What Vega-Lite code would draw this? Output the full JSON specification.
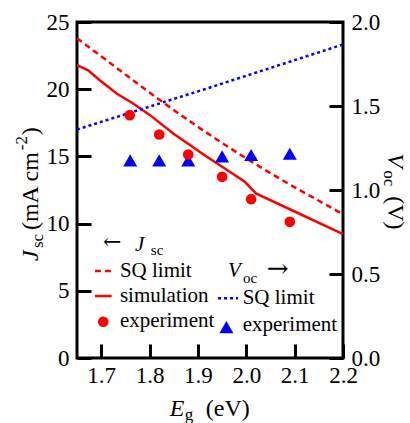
{
  "$schema": "https://vega.github.io/schema/vega-lite/v6.json",
  "width": 266,
  "height": 336,
  "autosize": {"type": "none"},
  "padding": {"left": 77, "top": 22, "right": 67, "bottom": 65},
  "background": "white",
  "config": {
    "view": {"stroke": "black", "strokeWidth": 3},
    "font": "Liberation Serif",
    "axis": {"domain": false, "grid": false, "ticks": true, "tickColor": "black", "tickWidth": 3, "tickSize": -14, "labelFont": "Liberation Serif", "labelFontSize": 23, "labelColor": "black", "labelPadding": 22, "labelFlush": false, "labelOverlap": false, "title": null},
    "text": {"font": "Liberation Serif", "color": "black", "align": "left", "baseline": "alphabetic"}
  },
  "datasets": {
    "sqJ": [{"E": 1.65, "J": 23.8}, {"E": 1.7, "J": 22.45}, {"E": 1.75, "J": 21.1}, {"E": 1.8, "J": 19.75}, {"E": 1.85, "J": 18.45}, {"E": 1.9, "J": 17.2}, {"E": 1.95, "J": 16.0}, {"E": 2.0, "J": 14.85}, {"E": 2.05, "J": 13.75}, {"E": 2.1, "J": 12.7}, {"E": 2.15, "J": 11.7}, {"E": 2.2, "J": 10.7}],
    "simJ": [{"E": 1.65, "J": 21.8}, {"E": 1.673, "J": 21.4}, {"E": 1.697, "J": 20.67}, {"E": 1.732, "J": 19.68}, {"E": 1.766, "J": 18.94}, {"E": 1.801, "J": 18.07}, {"E": 1.849, "J": 16.7}, {"E": 1.914, "J": 15.09}, {"E": 1.997, "J": 13.11}, {"E": 2.02, "J": 12.25}, {"E": 2.1, "J": 10.9}, {"E": 2.2, "J": 9.22}],
    "expJ": [{"E": 1.759, "J": 18.07}, {"E": 1.82, "J": 16.63}, {"E": 1.88, "J": 15.14}, {"E": 1.95, "J": 13.48}, {"E": 2.01, "J": 11.82}, {"E": 2.09, "J": 10.13}],
    "sqV": [{"E": 1.65, "V": 1.36}, {"E": 1.914, "V": 1.6}, {"E": 2.2, "V": 1.866}],
    "expV": [{"E": 1.76, "V": 1.176}, {"E": 1.82, "V": 1.176}, {"E": 1.88, "V": 1.176}, {"E": 1.95, "V": 1.2}, {"E": 2.01, "V": 1.208}, {"E": 2.09, "V": 1.216}],
    "legArrowJ": [{"E": 1.7037, "J": 8.62, "t": "←"}],
    "legJ": [{"E": 1.7387, "J": 6.47, "t": "SQ limit"}, {"E": 1.7387, "J": 4.61, "t": "simulation"}, {"E": 1.7387, "J": 2.75, "t": "experiment"}],
    "legJit": [{"E": 1.7697, "J": 7.955, "t": "J"}],
    "legJsub": [{"E": 1.8027, "J": 7.658, "t": "sc"}],
    "legDashJ": [{"E": 1.6871, "E2": 1.7216, "J": 6.47}],
    "legSolidJ": [{"E": 1.6871, "E2": 1.7216, "J": 4.61}],
    "legPtJ": [{"E": 1.7043, "J": 2.7}],
    "legArrowV": [{"E": 2.0421, "V": 0.529, "t": "→"}],
    "legV": [{"E": 1.9926, "V": 0.355, "t": "SQ limit"}, {"E": 1.9926, "V": 0.196, "t": "experiment"}],
    "legVit": [{"E": 1.9622, "V": 0.4816, "t": "V"}],
    "legVsub": [{"E": 1.9932, "V": 0.446, "t": "oc"}],
    "legDotV": [{"E": 1.9416, "E2": 1.9829, "V": 0.355}],
    "legTriV": [{"E": 1.9589, "V": 0.184}],
    "titleLit": [{"E": 1.5695, "J": 7.21, "t": "J"}],
    "titleLsmall": [{"E": 1.5798, "J": 8.18, "t": "sc"}, {"E": 1.5468, "J": 15.46, "t": "-2"}],
    "titleLmain": [{"E": 1.5695, "J": 9.52, "t": "(mA cm"}, {"E": 1.5695, "J": 16.58, "t": ")"}],
    "titleBit": [{"E": 1.8419, "J": -4.31, "t": "E"}],
    "titleBsub": [{"E": 1.8729, "J": -4.61, "t": "g"}],
    "titleBmain": [{"E": 1.9162, "J": -4.31, "t": "(eV)"}],
    "titleRit": [{"E": 2.2938, "V": 1.2188, "t": "V"}],
    "titleRsub": [{"E": 2.2856, "V": 1.1177, "t": "oc"}],
    "titleRmain": [{"E": 2.2938, "V": 0.9631, "t": "(V)"}]
  },
  "layer": [
    {
      "encoding": {
        "x": {"field": "E", "type": "quantitative", "scale": {"domain": [1.65, 2.2], "nice": false, "zero": false}, "axis": {"values": [1.7, 1.8, 1.9, 2.0, 2.1, 2.2], "format": ".1f", "labelPadding": 20}},
        "y": {"field": "J", "type": "quantitative", "scale": {"domain": [0, 25], "nice": false}, "axis": {"orient": "left", "values": [0, 5, 10, 15, 20, 25], "format": "d"}}
      },
      "layer": [
        {"data": {"name": "sqJ"}, "mark": {"type": "line", "color": "#ff0000", "strokeWidth": 2.5, "strokeDash": [6, 4]}},
        {"data": {"name": "simJ"}, "mark": {"type": "line", "color": "#ff0000", "strokeWidth": 2.5}},
        {"data": {"name": "legDashJ"}, "mark": {"type": "rule", "color": "#ff0000", "strokeWidth": 2.5, "strokeDash": [6, 4]}, "encoding": {"x2": {"field": "E2"}}},
        {"data": {"name": "legSolidJ"}, "mark": {"type": "rule", "color": "#ff0000", "strokeWidth": 2.5}, "encoding": {"x2": {"field": "E2"}}},
        {"data": {"name": "legArrowJ"}, "mark": {"type": "text", "font": "DejaVu Serif", "fontSize": 22, "baseline": "middle"}, "encoding": {"text": {"field": "t"}}},
        {"data": {"name": "legJ"}, "mark": {"type": "text", "fontSize": 21, "baseline": "middle"}, "encoding": {"text": {"field": "t"}}},
        {"data": {"name": "legJit"}, "mark": {"type": "text", "fontSize": 21, "fontStyle": "italic"}, "encoding": {"text": {"field": "t"}}},
        {"data": {"name": "legJsub"}, "mark": {"type": "text", "fontSize": 15}, "encoding": {"text": {"field": "t"}}},
        {"data": {"name": "titleLit"}, "mark": {"type": "text", "fontSize": 24, "fontStyle": "italic", "angle": 270}, "encoding": {"text": {"field": "t"}}},
        {"data": {"name": "titleLsmall"}, "mark": {"type": "text", "fontSize": 17, "angle": 270}, "encoding": {"text": {"field": "t"}}},
        {"data": {"name": "titleLmain"}, "mark": {"type": "text", "fontSize": 24, "angle": 270}, "encoding": {"text": {"field": "t"}}},
        {"data": {"name": "titleBit"}, "mark": {"type": "text", "fontSize": 24, "fontStyle": "italic"}, "encoding": {"text": {"field": "t"}}},
        {"data": {"name": "titleBsub"}, "mark": {"type": "text", "fontSize": 17}, "encoding": {"text": {"field": "t"}}},
        {"data": {"name": "titleBmain"}, "mark": {"type": "text", "fontSize": 24}, "encoding": {"text": {"field": "t"}}}
      ]
    },
    {
      "encoding": {
        "x": {"field": "E", "type": "quantitative", "scale": {"domain": [1.65, 2.2], "nice": false, "zero": false}, "axis": {"values": [1.7, 1.8, 1.9, 2.0, 2.1, 2.2], "format": ".1f", "labelPadding": 20}},
        "y": {"field": "V", "type": "quantitative", "scale": {"domain": [0, 2], "nice": false}, "axis": {"orient": "right", "values": [0, 0.5, 1, 1.5, 2], "format": ".1f"}}
      },
      "layer": [
        {"data": {"name": "sqV"}, "mark": {"type": "line", "color": "#0000ff", "strokeWidth": 2.5, "strokeDash": [3, 3]}},
        {"data": {"name": "expV"}, "mark": {"type": "point", "shape": "triangle-up", "filled": true, "color": "#0000ff", "size": 196, "opacity": 1, "strokeWidth": 0}},
        {"data": {"name": "legDotV"}, "mark": {"type": "rule", "color": "#0000ff", "strokeWidth": 2.5, "strokeDash": [3, 3]}, "encoding": {"x2": {"field": "E2"}}},
        {"data": {"name": "legTriV"}, "mark": {"type": "point", "shape": "triangle-up", "filled": true, "color": "#0000ff", "size": 196, "opacity": 1, "strokeWidth": 0}},
        {"data": {"name": "legArrowV"}, "mark": {"type": "text", "font": "DejaVu Serif", "fontSize": 26, "baseline": "middle"}, "encoding": {"text": {"field": "t"}}},
        {"data": {"name": "legV"}, "mark": {"type": "text", "fontSize": 21, "baseline": "middle"}, "encoding": {"text": {"field": "t"}}},
        {"data": {"name": "legVit"}, "mark": {"type": "text", "fontSize": 21, "fontStyle": "italic"}, "encoding": {"text": {"field": "t"}}},
        {"data": {"name": "legVsub"}, "mark": {"type": "text", "fontSize": 15}, "encoding": {"text": {"field": "t"}}},
        {"data": {"name": "titleRit"}, "mark": {"type": "text", "fontSize": 24, "fontStyle": "italic", "angle": 90}, "encoding": {"text": {"field": "t"}}},
        {"data": {"name": "titleRsub"}, "mark": {"type": "text", "fontSize": 17, "angle": 90}, "encoding": {"text": {"field": "t"}}},
        {"data": {"name": "titleRmain"}, "mark": {"type": "text", "fontSize": 24, "angle": 90}, "encoding": {"text": {"field": "t"}}}
      ]
    },
    {
      "encoding": {
        "x": {"field": "E", "type": "quantitative", "scale": {"domain": [1.65, 2.2], "nice": false, "zero": false}, "axis": {"values": [1.7, 1.8, 1.9, 2.0, 2.1, 2.2], "format": ".1f", "labelPadding": 20}},
        "y": {"field": "J", "type": "quantitative", "scale": {"domain": [0, 25], "nice": false}, "axis": null}
      },
      "layer": [
        {"data": {"name": "expJ"}, "mark": {"type": "point", "shape": "circle", "filled": true, "color": "#ff0000", "size": 113, "opacity": 1, "strokeWidth": 0}},
        {"data": {"name": "legPtJ"}, "mark": {"type": "point", "shape": "circle", "filled": true, "color": "#ff0000", "size": 113, "opacity": 1, "strokeWidth": 0}}
      ]
    }
  ],
  "resolve": {"scale": {"y": "independent"}}
}
